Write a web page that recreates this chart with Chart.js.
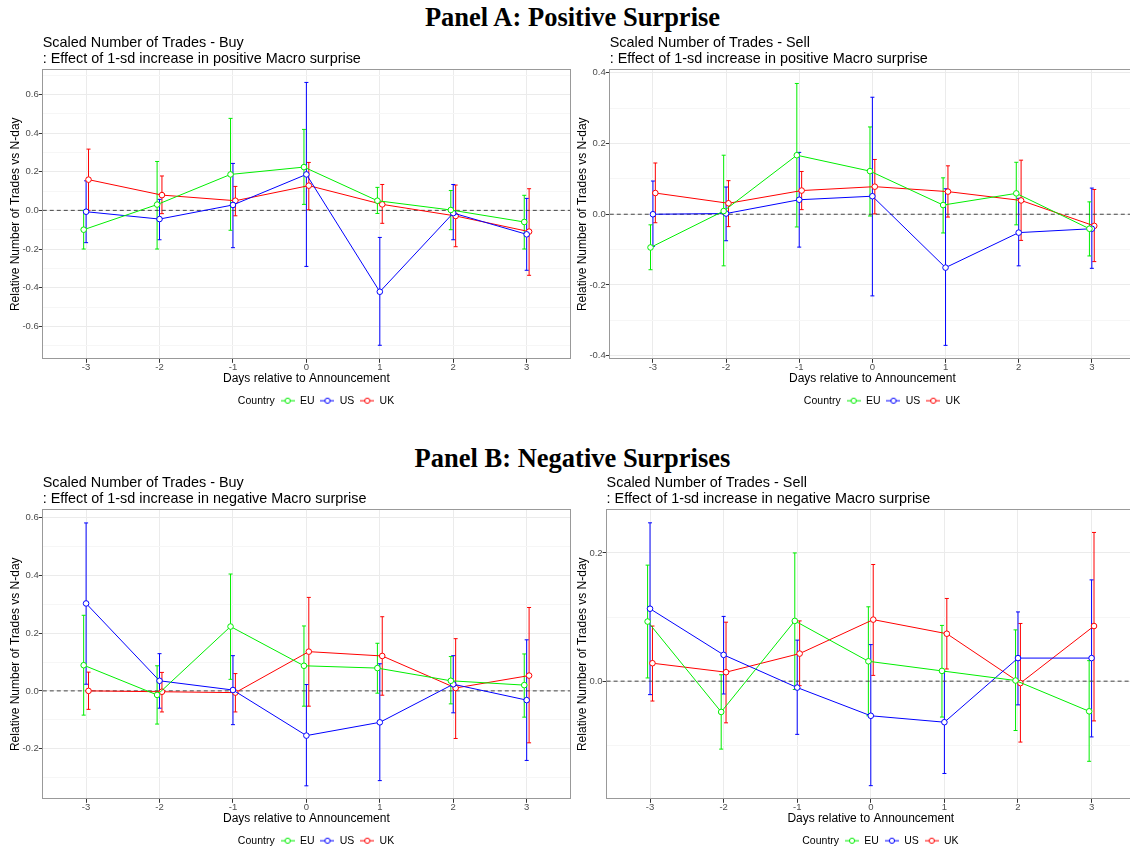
<!DOCTYPE html>
<html>
<head>
<meta charset="utf-8">
<script src="https://cdn.jsdelivr.net/npm/chart.js@4.4.1/dist/chart.umd.min.js"></script>
<style>
  body { margin: 0; width: 1130px; height: 850px; overflow: hidden; background: #fff; }
  .panel-title {
    position: absolute; left: 0; width: 1145px; text-align: center;
    font-family: "Liberation Serif", "Times New Roman", serif;
    font-weight: bold; font-size: 26.5px; line-height: 32px; color: #000;
  }
  .box { position: absolute; }
</style>
</head>
<body>
<div class="panel-title" style="top:1px">Panel A: Positive Surprise</div>
<div class="panel-title" style="top:442px">Panel B: Negative Surprises</div>

<div class="box" style="left:0px; top:30px"><canvas id="posBuy" width="575" height="390"></canvas></div>
<div class="box" style="left:567px; top:30px"><canvas id="posSell" width="573" height="390"></canvas></div>
<div class="box" style="left:0px; top:470px"><canvas id="negBuy" width="575" height="390"></canvas></div>
<div class="box" style="left:567px; top:470px"><canvas id="negSell" width="573" height="390"></canvas></div>

<script>
const days = [-3, -2, -1, 0, 1, 2, 3];
const countries = ['EU', 'US', 'UK'];

// Panel A - Buy
const posBuyEU = [-0.10, 0.03, 0.186, 0.224, 0.05, 0.002, -0.06];
const posBuyEULow = [-0.20, -0.20, -0.103, 0.031, -0.016, -0.10, -0.20];
const posBuyEUHigh = [0.0, 0.253, 0.476, 0.419, 0.119, 0.103, 0.078];
const posBuyUS = [-0.007, -0.045, 0.028, 0.186, -0.421, -0.014, -0.124];
const posBuyUSLow = [-0.167, -0.152, -0.193, -0.29, -0.698, -0.152, -0.31];
const posBuyUSHigh = [0.153, 0.057, 0.243, 0.662, -0.14, 0.134, 0.062];
const posBuyUK = [0.159, 0.079, 0.05, 0.128, 0.031, -0.029, -0.11];
const posBuyUKLow = [0.0, -0.017, -0.028, 0.003, -0.067, -0.188, -0.336];
const posBuyUKHigh = [0.317, 0.178, 0.124, 0.248, 0.134, 0.131, 0.112];

// Panel A - Sell
const posSellEU = [-0.094, 0.009, 0.167, 0.122, 0.026, 0.059, -0.041];
const posSellEULow = [-0.157, -0.146, -0.036, -0.005, -0.053, -0.030, -0.118];
const posSellEUHigh = [-0.030, 0.167, 0.370, 0.247, 0.103, 0.147, 0.035];
const posSellUS = [0.0, 0.002, 0.041, 0.051, -0.151, -0.052, -0.041];
const posSellUSLow = [-0.091, -0.075, -0.093, -0.231, -0.371, -0.146, -0.153];
const posSellUSHigh = [0.094, 0.077, 0.175, 0.331, 0.072, 0.045, 0.074];
const posSellUK = [0.06, 0.031, 0.067, 0.078, 0.064, 0.039, -0.033];
const posSellUKLow = [-0.024, -0.035, 0.013, 0.001, -0.008, -0.074, -0.134];
const posSellUKHigh = [0.145, 0.095, 0.121, 0.155, 0.137, 0.153, 0.070];

// Panel B - Buy
const negBuyEU = [0.089, -0.014, 0.223, 0.087, 0.079, 0.035, 0.020];
const negBuyEULow = [-0.084, -0.115, 0.040, -0.053, -0.008, -0.045, -0.091];
const negBuyEUHigh = [0.262, 0.087, 0.405, 0.225, 0.165, 0.119, 0.128];
const negBuyUS = [0.303, 0.035, 0.003, -0.155, -0.109, 0.023, -0.032];
const negBuyUSLow = [0.023, -0.06, -0.117, -0.329, -0.311, -0.076, -0.241];
const negBuyUSHigh = [0.582, 0.129, 0.122, 0.022, 0.094, 0.122, 0.177];
const negBuyUK = [0.0, -0.003, -0.006, 0.136, 0.121, 0.010, 0.053];
const negBuyUKLow = [-0.064, -0.073, -0.073, -0.053, -0.015, -0.165, -0.180];
const negBuyUKHigh = [0.065, 0.064, 0.060, 0.324, 0.257, 0.181, 0.289];

// Panel B - Sell
const negSellEU = [0.093, -0.048, 0.094, 0.031, 0.016, 0.001, -0.047];
const negSellEULow = [0.005, -0.106, -0.013, -0.054, -0.056, -0.077, -0.125];
const negSellEUHigh = [0.181, 0.010, 0.200, 0.116, 0.087, 0.080, 0.032];
const negSellUS = [0.113, 0.041, -0.010, -0.054, -0.064, 0.036, 0.036];
const negSellUSLow = [-0.021, -0.020, -0.083, -0.163, -0.144, -0.037, -0.087];
const negSellUSHigh = [0.247, 0.101, 0.064, 0.057, 0.015, 0.108, 0.158];
const negSellUK = [0.028, 0.014, 0.043, 0.096, 0.074, -0.003, 0.086];
const negSellUKLow = [-0.031, -0.065, -0.007, 0.009, 0.019, -0.095, -0.062];
const negSellUKHigh = [0.086, 0.092, 0.094, 0.182, 0.129, 0.090, 0.232];

const colors = { EU: '#00ee00', US: '#0000ff', UK: '#ff0000' };
const dodge = { EU: -0.033, US: 0, UK: 0.033 };
const FONT = '"Liberation Sans", Arial, sans-serif';

Chart.defaults.font.family = FONT;
Chart.defaults.animation = false;

// small legend key: line with an open circle
function legendKey(color) {
    const c = document.createElement('canvas');
    c.width = 14; c.height = 8;
    const g = c.getContext('2d');
    g.strokeStyle = color; g.lineWidth = 1;
    g.beginPath(); g.moveTo(0, 4); g.lineTo(14, 4); g.stroke();
    g.fillStyle = '#fff';
    g.beginPath(); g.arc(7, 4, 2.6, 0, Math.PI * 2); g.fill(); g.stroke();
    return c;
}
const blankKey = document.createElement('canvas');
blankKey.width = 1; blankKey.height = 1;

function isMajor(v) {
    return Math.abs(Math.round(v * 10)) % 2 === 0;
}

function makeChart(id, title, series, yMin, yMax) {
    const datasets = [];
    countries.forEach(cn => {
        const s = series[cn];
        datasets.push({
            label: cn,
            data: days.map((d, i) => ({ x: d + dodge[cn], y: s.mean[i] })),
            borderColor: colors[cn],
            borderWidth: 1,
            pointRadius: 2.8,
            pointBackgroundColor: '#fff',
            pointBorderColor: colors[cn],
            pointBorderWidth: 1,
            order: 1
        });
    });
    datasets.push({
        label: 'zero',
        data: [{ x: -3.59, y: 0 }, { x: 3.59, y: 0 }],
        borderColor: '#444',
        borderWidth: 1,
        borderDash: [4, 3],
        pointRadius: 0,
        order: 2
    });
    countries.forEach(cn => {
        const s = series[cn];
        days.forEach((d, i) => {
            datasets.push({
                label: cn + ' ci',
                data: [{ x: d + dodge[cn], y: s.low[i] }, { x: d + dodge[cn], y: s.high[i] }],
                borderColor: colors[cn],
                borderWidth: 1,
                pointStyle: 'line',
                pointRadius: 2,
                pointBorderColor: colors[cn],
                pointBorderWidth: 1,
                order: 3
            });
        });
    });

    const border = { color: '#999', width: 1 };
    return new Chart(document.getElementById(id), {
        type: 'line',
        data: { datasets },
        options: {
            responsive: false,
            layout: { padding: { top: 5, left: 8, right: 4, bottom: 4 } },
            plugins: {
                tooltip: { enabled: false },
                title: {
                    display: true,
                    text: title,
                    align: 'start',
                    fullSize: false,
                    color: '#000',
                    font: { size: 14.4, weight: 'normal', lineHeight: 1.1 },
                    padding: { top: 0, bottom: 3 }
                },
                legend: {
                    position: 'bottom',
                    fullSize: false,
                    onClick: null,
                    labels: {
                        usePointStyle: true,
                        pointStyleWidth: 14,
                        color: '#000',
                        font: { size: 10.5 },
                        padding: 6,
                        generateLabels: chart => {
                            const items = [{ text: 'Country', pointStyle: blankKey, fillStyle: 'transparent', strokeStyle: 'transparent', lineWidth: 0, hidden: false }];
                            countries.forEach((cn, i) => {
                                items.push({ text: cn, pointStyle: legendKey(colors[cn]), fillStyle: 'transparent', strokeStyle: 'transparent', lineWidth: 0, hidden: false, datasetIndex: i });
                            });
                            return items;
                        }
                    }
                }
            },
            scales: {
                x: {
                    type: 'linear',
                    min: -3.59, max: 3.59,
                    ticks: { stepSize: 1, includeBounds: false, color: '#4d4d4d', font: { size: 9.5, lineHeight: 1 }, padding: 0 },
                    grid: { color: '#ebebeb', tickColor: '#333', tickLength: 4 },
                    border: border,
                    title: { display: true, text: 'Days relative to Announcement', color: '#000', font: { size: 12, lineHeight: 1.1 }, padding: { top: 0, bottom: 4 } }
                },
                y: {
                    type: 'linear',
                    min: yMin, max: yMax,
                    ticks: {
                        stepSize: 0.1, includeBounds: false, autoSkip: false,
                        color: '#4d4d4d', font: { size: 9.5 }, padding: 0,
                        callback: v => isMajor(v) ? (Math.round(v * 10) / 10).toFixed(1) : ''
                    },
                    grid: {
                        color: c => isMajor(c.tick.value) ? '#ebebeb' : '#f6f6f6',
                        tickColor: c => isMajor(c.tick.value) ? '#333' : 'rgba(0,0,0,0)',
                        tickLength: 4
                    },
                    border: border,
                    title: { display: true, text: 'Relative Number of Trades vs N-day', color: '#000', font: { size: 12 }, padding: { top: 0, bottom: 0 } }
                },
                xTop: {
                    type: 'linear', position: 'top', min: -3.59, max: 3.59,
                    ticks: { display: false }, grid: { display: false, drawTicks: false }, border: border
                },
                yRight: {
                    type: 'linear', position: 'right', min: yMin, max: yMax,
                    ticks: { display: false }, grid: { display: false, drawTicks: false }, border: border
                }
            }
        }
    });
}

makeChart('posBuy',
    ['Scaled Number of Trades - Buy', ': Effect of 1-sd increase in positive Macro surprise'],
    {
        EU: { mean: posBuyEU, low: posBuyEULow, high: posBuyEUHigh },
        US: { mean: posBuyUS, low: posBuyUSLow, high: posBuyUSHigh },
        UK: { mean: posBuyUK, low: posBuyUKLow, high: posBuyUKHigh }
    }, -0.768, 0.728);

makeChart('posSell',
    ['Scaled Number of Trades - Sell', ': Effect of 1-sd increase in positive Macro surprise'],
    {
        EU: { mean: posSellEU, low: posSellEULow, high: posSellEUHigh },
        US: { mean: posSellUS, low: posSellUSLow, high: posSellUSHigh },
        UK: { mean: posSellUK, low: posSellUKLow, high: posSellUKHigh }
    }, -0.409, 0.409);

makeChart('negBuy',
    ['Scaled Number of Trades - Buy', ': Effect of 1-sd increase in negative Macro surprise'],
    {
        EU: { mean: negBuyEU, low: negBuyEULow, high: negBuyEUHigh },
        US: { mean: negBuyUS, low: negBuyUSLow, high: negBuyUSHigh },
        UK: { mean: negBuyUK, low: negBuyUKLow, high: negBuyUKHigh }
    }, -0.374, 0.628);

makeChart('negSell',
    ['Scaled Number of Trades - Sell', ': Effect of 1-sd increase in negative Macro surprise'],
    {
        EU: { mean: negSellEU, low: negSellEULow, high: negSellEUHigh },
        US: { mean: negSellUS, low: negSellUSLow, high: negSellUSHigh },
        UK: { mean: negSellUK, low: negSellUKLow, high: negSellUKHigh }
    }, -0.1835, 0.2675);
</script>
</body>
</html>
